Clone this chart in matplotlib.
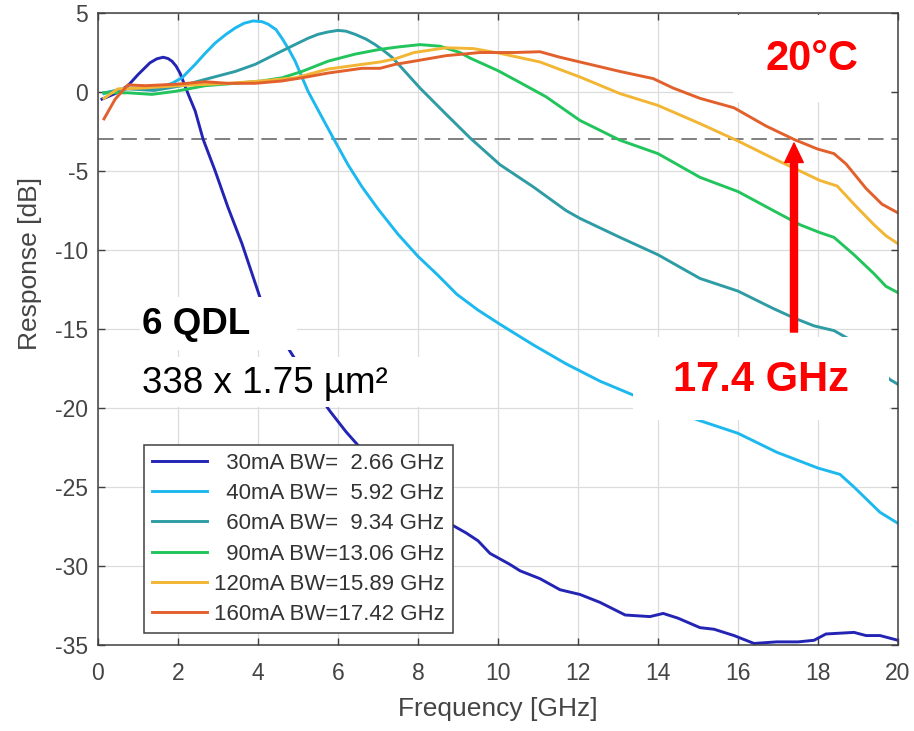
import matplotlib
matplotlib.use('Agg')
import matplotlib.pyplot as plt
from matplotlib.patches import Rectangle

plt.rcParams['font.family'] = ['Liberation Sans', 'DejaVu Sans']
plt.rcParams['axes.unicode_minus'] = False

f30 = [0.1, 0.43, 0.75, 1.0, 1.3, 1.47, 1.63, 1.75, 1.85, 1.95, 2.05, 2.25, 2.43, 2.63,
       2.93, 3.25, 3.6, 4.05, 4.4, 4.8, 5.3, 5.8, 6.2, 6.55, 7.0, 7.5, 8.0, 8.5, 8.85, 9.2,
       9.5, 9.8, 10.3, 10.55, 11.05, 11.55, 12.05, 12.55, 13.18, 13.8, 14.13, 14.5, 15.05,
       15.4, 15.9, 16.4, 16.97, 17.5, 17.9, 18.2, 18.9, 19.2, 19.55, 20.0]
r30 = [-0.45, -0.1, 0.4, 1.1, 1.85, 2.1, 2.2, 2.12, 1.95, 1.65, 1.2, -0.1, -1.2, -3.0,
       -5.0, -7.3, -9.6, -13.0, -14.7, -16.4, -18.4, -20.2, -21.5, -22.5, -23.8, -25.0,
       -26.0, -26.8, -27.4, -27.9, -28.4, -29.2, -29.9, -30.3, -30.8, -31.5, -31.8, -32.3,
       -33.1, -33.2, -33.0, -33.3, -33.9, -34.0, -34.4, -34.9, -34.8, -34.8, -34.7, -34.3,
       -34.2, -34.4, -34.4, -34.7]

f40 = [0.15, 0.5, 0.75, 1.1, 1.43, 1.85, 2.1, 2.43, 2.68, 2.93, 3.2, 3.43, 3.65, 3.88,
       4.1, 4.25, 4.45, 4.6, 4.77, 4.93, 5.25, 5.6, 5.9, 6.25, 6.6, 7.0, 7.5, 8.0, 8.5,
       8.97, 9.5, 10.05, 10.88, 11.7, 12.55, 13.4, 14.0, 14.5, 15.05, 16.0, 16.97, 18.0,
       18.55, 18.9, 19.55, 20.0]
r40 = [-0.1, 0.15, 0.25, 0.25, 0.2, 0.55, 0.9, 1.75, 2.45, 3.1, 3.65, 4.05, 4.35, 4.5,
       4.45, 4.3, 3.95, 3.4, 2.7, 1.95, 0.05, -1.6, -3.0, -4.6, -6.0, -7.4, -9.0, -10.4,
       -11.6, -12.8, -13.8, -14.7, -16.0, -17.2, -18.3, -19.2, -19.8, -20.3, -20.8, -21.6,
       -22.8, -23.8, -24.2, -25.0, -26.6, -27.3]

f60 = [0.15, 0.75, 1.4, 2.1, 2.68, 3.43, 3.93, 4.6, 5.25, 5.5, 5.75, 6.0, 6.2, 6.43,
       6.7, 6.93, 7.15, 7.35, 7.55, 8.05, 8.7, 9.3, 10.05, 10.88, 11.7, 12.05, 13.05, 14.0,
       15.05, 16.0, 16.88, 17.4, 17.9, 18.4, 18.75, 19.25, 19.8, 20.0]
r60 = [-0.05, 0.2, 0.1, 0.4, 0.8, 1.3, 1.75, 2.6, 3.4, 3.65, 3.8, 3.9, 3.85, 3.65,
       3.35, 3.0, 2.6, 2.2, 1.65, 0.25, -1.4, -2.9, -4.6, -6.0, -7.5, -8.0, -9.2, -10.3,
       -11.8, -12.6, -13.7, -14.3, -14.8, -15.1, -15.6, -16.9, -18.2, -18.5]

f90 = [0.15, 0.75, 1.35, 1.95, 2.68, 3.43, 4.1, 4.6, 5.1, 5.75, 6.43, 7.05, 7.5, 8.05,
       8.55, 9.05, 9.3, 10.0, 10.55, 11.2, 12.05, 13.05, 14.0, 15.05, 16.0, 16.88, 17.55,
       18.05, 18.4, 18.9, 19.4, 19.7, 20.0]
r90 = [-0.05, -0.05, -0.15, 0.05, 0.4, 0.55, 0.7, 0.9, 1.3, 1.95, 2.4, 2.7, 2.85, 3.0,
       2.9, 2.5, 2.15, 1.35, 0.6, -0.3, -1.8, -3.05, -3.9, -5.4, -6.3, -7.5, -8.4, -8.9,
       -9.2, -10.3, -11.5, -12.3, -12.7]

f120 = [0.15, 0.5, 1.1, 2.0, 3.25, 4.1, 4.93, 5.75, 6.6, 7.05, 7.43, 7.9, 8.7, 9.38,
        10.05, 11.05, 12.05, 13.05, 14.0, 15.05, 16.0, 16.88, 17.55, 18.05, 18.48, 18.9,
        19.4, 19.7, 20.0]
r120 = [-0.4, 0.2, 0.25, 0.4, 0.55, 0.7, 0.9, 1.45, 1.75, 1.9, 2.1, 2.5, 2.8, 2.75,
        2.45, 1.9, 0.95, -0.1, -0.85, -2.0, -3.1, -4.2, -5.0, -5.6, -5.95, -7.1, -8.4,
        -9.1, -9.6]

f160 = [0.15, 0.43, 0.75, 1.18, 2.0, 2.68, 3.25, 3.93, 4.6, 5.1, 5.75, 6.6, 7.05, 7.43,
        7.9, 8.7, 9.55, 10.4, 11.05, 11.55, 12.05, 13.05, 13.88, 14.38, 15.05, 15.9, 16.7,
        17.4, 17.98, 18.4, 18.7, 19.2, 19.6, 20.0]
r160 = [-1.7, -0.45, 0.45, 0.4, 0.5, 0.65, 0.55, 0.55, 0.7, 0.9, 1.2, 1.5, 1.5, 1.75,
        1.95, 2.3, 2.5, 2.5, 2.55, 2.2, 1.9, 1.3, 0.85, 0.25, -0.4, -1.0, -2.15, -3.0,
        -3.6, -3.9, -4.55, -6.1, -7.1, -7.65]

labels = ['  30mA BW=  2.66 GHz', '  40mA BW=  5.92 GHz', '  60mA BW=  9.34 GHz',
          '  90mA BW=13.06 GHz', '120mA BW=15.89 GHz', '160mA BW=17.42 GHz']
colors = ['#2424b4', '#1cb8ee', '#2e9ca4', '#22c45c', '#f2b634', '#e2602c']

freqs = [f30, f40, f60, f90, f120, f160]
resps = [r30, r40, r60, r90, r120, r160]

fig = plt.figure(figsize=(9.14, 7.31), dpi=100)
ax = fig.add_axes([0.1072, 0.1176, 0.8753, 0.8646])

for fr, rr, lab, col in zip(freqs, resps, labels, colors):
    ax.plot(fr, rr, color=col, lw=2.1, label=lab, zorder=2, solid_joinstyle='round')

# -3 dB reference
ax.axhline(-3, color='#7f7f7f', lw=1.4, ls=(0, (8, 4)), zorder=1.8)

ax.set_xlim(0, 20)
ax.set_ylim(-35, 5)
ax.set_xticks(range(0, 21, 2))
ax.set_yticks(range(-35, 6, 5))
ax.grid(True, color='#dcdcdc', lw=0.9)
ax.set_axisbelow(True)
ax.tick_params(direction='in', length=5, width=1, color='#404040',
               top=True, right=True, labelsize=16.5, labelcolor='#444444')
ax.tick_params(axis='x', pad=12)
ax.tick_params(axis='y', pad=7)
for s in ax.spines.values():
    s.set_color('#404040')
    s.set_linewidth(1.1)

ax.set_xlabel('Frequency [GHz]', fontsize=19, color='#444444', labelpad=9)
ax.set_ylabel('Response [dB]', fontsize=19, color='#444444')
ax.yaxis.set_label_coords(-0.07, 0.604)

# white boxes pasted over the plot
for x0, y0, w, h in [(1.05, -16.33, 3.925, 3.36), (1.05, -19.94, 7.625, 3.17),
                     (13.375, -20.76, 6.4, 5.25), (15.875, -0.63, 3.95, 5.53)]:
    ax.add_patch(Rectangle((x0, y0), w, h, facecolor='white', edgecolor='none', zorder=2.4))

ax.text(1.1, -15.32, '6 QDL', fontsize=26.5, fontweight='bold', color='black',
        va='baseline', zorder=3)
ax.text(1.1, -19.05, '338 x 1.75 µm²', fontsize=26.5, color='black',
        va='baseline', zorder=3)
ax.text(14.375, -18.92, '17.4 GHz', fontsize=30, fontweight='bold', color='#ff0000',
        va='baseline', zorder=3)
ax.text(16.675, 1.39, '20°C', fontsize=30, fontweight='bold', color='#ff0000',
        va='baseline', zorder=3)

ax.annotate('', xy=(17.4, -3.23), xytext=(17.4, -15.19),
            arrowprops=dict(arrowstyle='simple,head_length=1.0,head_width=0.95,tail_width=0.36',
                            color='#ff0000', mutation_scale=14, shrinkA=0, shrinkB=0),
            zorder=4)

leg = ax.legend(loc='lower left', bbox_to_anchor=(0.0575, 0.019), borderaxespad=0,
                fontsize=16, handlelength=2.5, handletextpad=0.3, labelspacing=0.42,
                borderpad=0.35, fancybox=False, framealpha=1, edgecolor='#404040')
leg.get_frame().set_linewidth(1.1)
for t in leg.get_texts():
    t.set_color('#333333')

fig.savefig('out.png', dpi=100)
